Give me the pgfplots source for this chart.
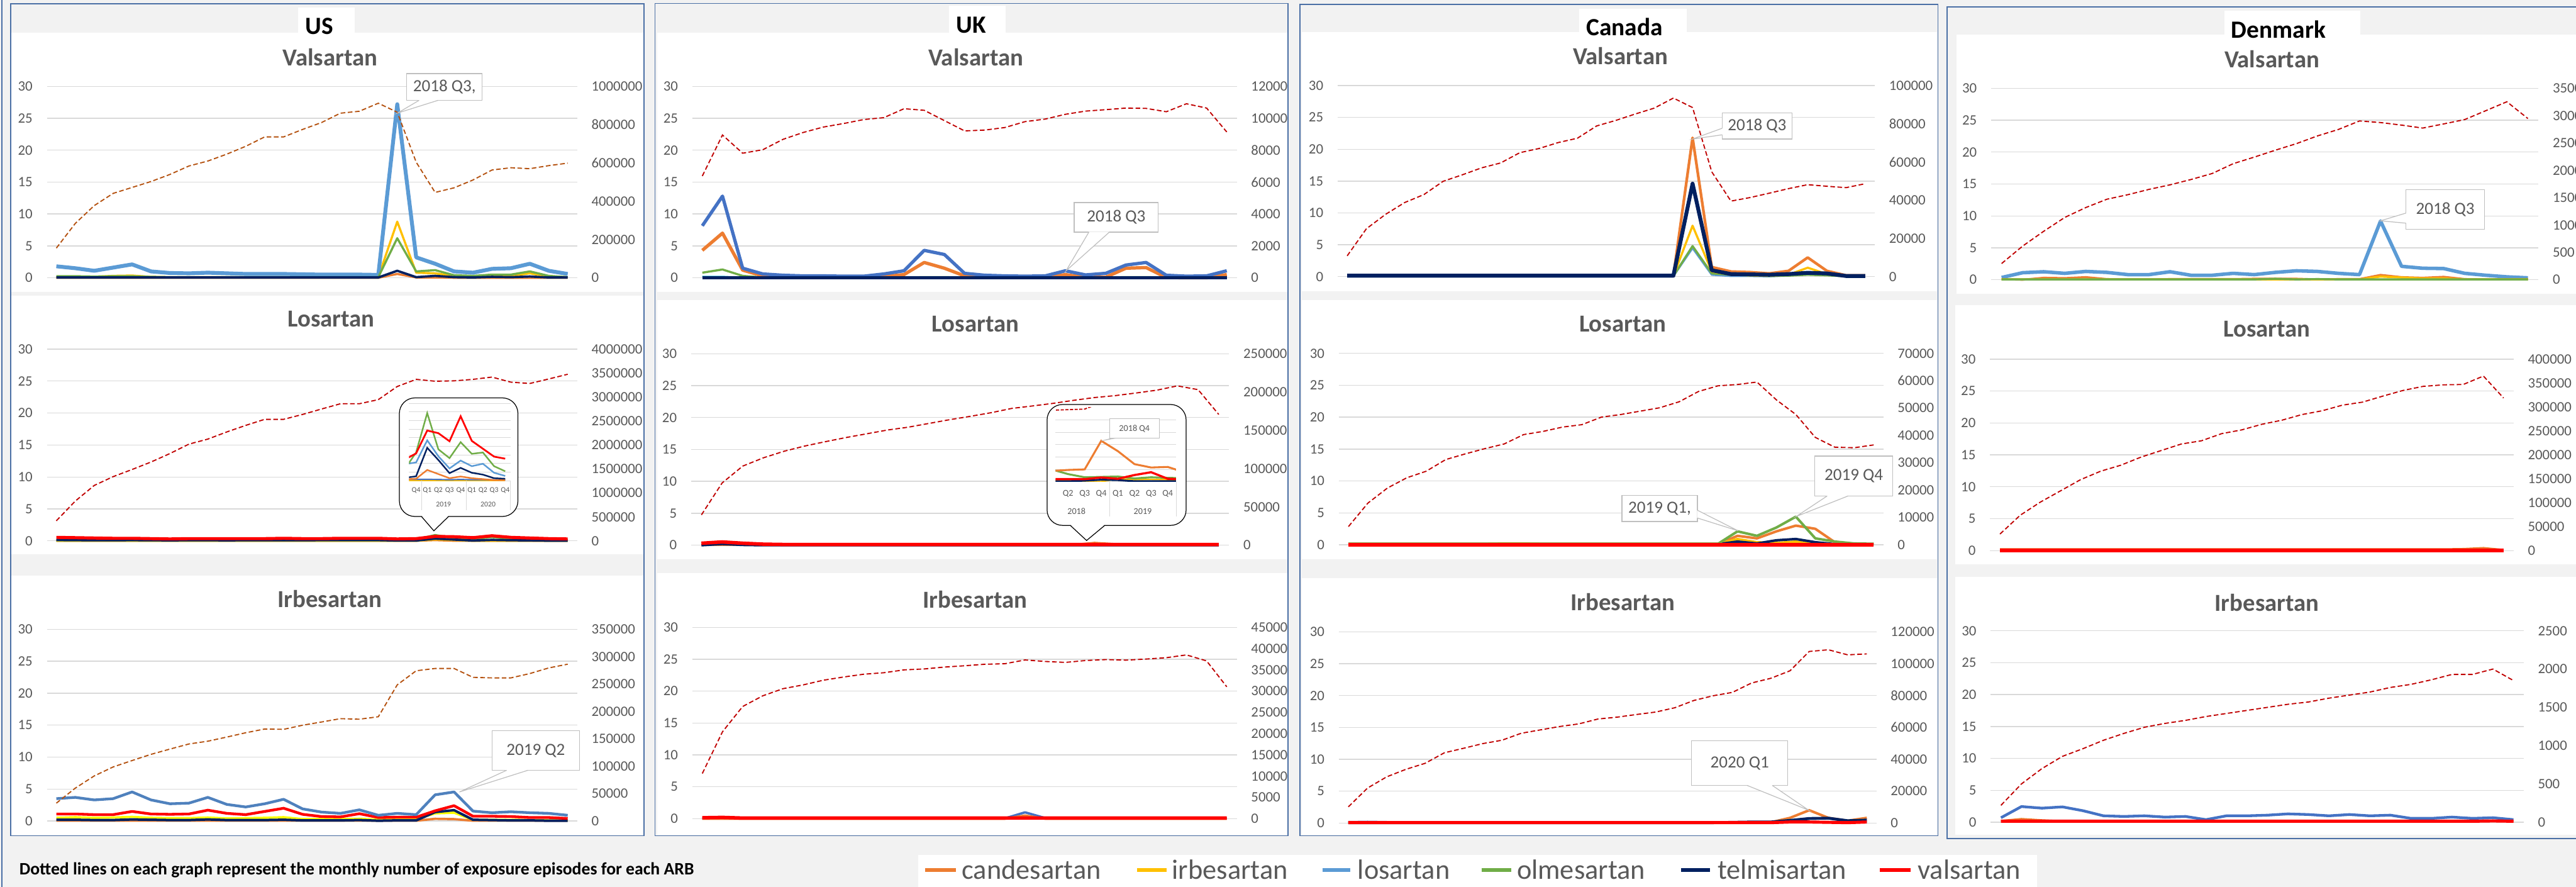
\documentclass[border=0pt]{standalone}
\usepackage{fontspec}
\setmainfont{Carlito}
\usepackage{pgfplots}
\usepackage{pgfplotstable}
\pgfplotsset{compat=1.18}
\definecolor{cand}{HTML}{ED7D31}
\definecolor{irb}{HTML}{FFC000}
\definecolor{yel}{HTML}{FFFF00}
\definecolor{los}{HTML}{5B9BD5}
\definecolor{losd}{HTML}{4472C4}
\definecolor{losm}{HTML}{4F81BD}
\definecolor{olm}{HTML}{70AD47}
\definecolor{tel}{HTML}{002060}
\definecolor{val}{HTML}{FF0000}
\definecolor{dashr}{HTML}{C00000}
\definecolor{dashb}{HTML}{B4500E}
\definecolor{gridc}{HTML}{D9D9D9}
\definecolor{txt}{HTML}{595959}
\definecolor{bg}{HTML}{F2F2F2}
\definecolor{boxc}{HTML}{4A6FA5}
\definecolor{callb}{HTML}{BFBFBF}
\newcommand\tickf{\fontsize{3.7}{4.4}\selectfont}
\newcommand\titf{\fontsize{6.3}{7.5}\selectfont\bfseries}
\newcommand\hdf{\fontsize{6.4}{7.5}\selectfont\bfseries}
\newcommand\callf{\fontsize{4.4}{5.2}\selectfont}
\newcommand\insf{\fontsize{1.9}{2.3}\selectfont}
\newcommand\insfb{\fontsize{2.3}{2.8}\selectfont}
\newcommand\legf{\fontsize{7.2}{8.6}\selectfont}
\newcommand\notef{\fontsize{4.5}{5.4}\selectfont\bfseries}
\pgfplotsset{
 base/.style={scale only axis, anchor=south west, xmin=-0.5, ymin=0, clip=false,
   axis line style={draw=none}, tick style={draw=none}, major tick length=0pt,
   xtick=\empty, ticklabel style={font=\tickf, text=txt, inner sep=0pt},
   /pgf/number format/assume math mode=true, ticklabel shift=3.5pt},
 lax/.style={base, ymax=30, ytick={0,5,10,15,20,25,30}, ymajorgrids, grid style={draw=gridc, line width=0.22pt}},
 rax/.style={base, axis y line*=right, axis x line=none, scaled y ticks=false,
   yticklabel style={/pgf/number format/fixed, /pgf/number format/1000 sep={}}},
 dsh/.style={line width=0.3pt, dash pattern=on 1.2pt off 0.65pt},
 ins/.style={scale only axis, anchor=south west, ymin=0, axis line style={draw=none}, tick style={draw=none},
   major tick length=0pt, yticklabels={}, ymajorgrids, grid style={draw=gridc, line width=0.15pt},
   xticklabel style={text=txt, inner sep=0pt, anchor=center}},
}
\begin{document}
% ---------------- data ----------------
\pgfplotstableread{
i cand irb los olm tel dash
0 0 0.1 1.8 0.25 0.05 155000
1 0 0.1 1.5 0.25 0.05 284000
2 0 0.15 1.1 0.2 0.05 377000
3 0 0.3 1.6 0.25 0.05 441000
4 0 0.35 2.1 0.25 0.05 472000
5 0 0.15 1.0 0.15 0.05 503000
6 0 0.1 0.75 0.1 0.05 540000
7 0 0.1 0.7 0.1 0.05 584000
8 0 0.1 0.8 0.1 0.05 610000
9 0 0.1 0.7 0.1 0.05 646000
10 0 0.1 0.6 0.1 0.05 687000
11 0 0.1 0.6 0.1 0.05 736000
12 0 0.1 0.6 0.1 0.05 736000
13 0 0.1 0.55 0.1 0.05 775000
14 0 0.1 0.5 0.1 0.05 811000
15 0 0.1 0.5 0.1 0.05 860000
16 0 0.1 0.5 0.1 0.05 870000
17 0 0.1 0.45 0.1 0.05 912000
18 0.6 8.8 27.2 6.2 1.1 865000
19 0.05 0.8 3.2 1.0 0.1 604000
20 0.05 0.7 2.2 1.2 0.3 446000
21 0 0.3 1.0 0.4 0.1 470000
22 0 0.2 0.8 0.3 0.05 511000
23 0 0.3 1.4 0.5 0.15 563000
24 0 0.3 1.5 0.5 0.1 575000
25 0 0.7 2.2 1.0 0.2 570000
26 0 0.2 1.1 0.3 0.05 586000
27 0 0.1 0.6 0.1 0.05 599000
}\tUSV
\pgfplotstableread{
i cand irb los olm tel dash
0 4.3 0.2 8.15 0.8 0 6380
1 7.0 0.2 12.8 1.3 0 8950
2 1.2 0.05 1.5 0.3 0 7810
3 0.3 0.05 0.6 0.05 0 8030
4 0.1 0.05 0.4 0.05 0 8680
5 0.1 0.05 0.3 0.05 0 9110
6 0.1 0.05 0.3 0.05 0 9450
7 0.1 0.05 0.25 0.05 0 9670
8 0.1 0.05 0.25 0.05 0 9920
9 0.2 0.05 0.6 0.05 0 10040
10 0.5 0.05 1.1 0.05 0 10600
11 2.4 0.1 4.3 0.1 0 10500
12 1.5 0.1 3.65 0.1 0 9855
13 0.3 0.05 0.7 0.05 0 9210
14 0.05 0.05 0.4 0.05 0 9260
15 0.05 0.05 0.3 0.05 0 9420
16 0.05 0.05 0.25 0.05 0 9790
17 0.05 0.05 0.3 0.05 0 9950
18 0.5 0.05 1.1 0.05 0 10250
19 0.05 0.05 0.45 0.05 0 10450
20 0.1 0.05 0.7 0.05 0 10540
21 1.5 0.1 2.0 0.1 0 10640
22 1.6 0.1 2.4 0.1 0 10620
23 0.05 0.05 0.4 0.05 0 10410
24 0 0.05 0.25 0.05 0 10910
25 0 0.05 0.3 0.05 0 10640
26 0.5 0.05 1.1 0.05 0 9140
}\tUKV
\pgfplotstableread{
i cand irb los olm tel dash
0 0.1 0.1 0.1 0.1 0.15 10870
1 0.1 0.1 0.1 0.1 0.15 25050
2 0.1 0.1 0.1 0.1 0.15 32600
3 0.1 0.1 0.1 0.1 0.15 38800
4 0.1 0.1 0.1 0.1 0.15 42960
5 0.1 0.1 0.1 0.1 0.15 49900
6 0.1 0.1 0.1 0.1 0.15 53300
7 0.1 0.1 0.1 0.1 0.15 56930
8 0.1 0.1 0.1 0.1 0.15 59520
9 0.1 0.1 0.1 0.1 0.15 64900
10 0.1 0.1 0.1 0.1 0.15 67080
11 0.1 0.1 0.1 0.1 0.15 70190
12 0.1 0.1 0.1 0.1 0.15 72460
13 0.1 0.1 0.1 0.1 0.15 78880
14 0.1 0.1 0.1 0.1 0.15 81780
15 0.1 0.1 0.1 0.1 0.15 85090
16 0.1 0.1 0.1 0.1 0.15 88200
17 0.1 0.1 0.1 0.1 0.15 93480
18 21.8 8.0 4.5 4.8 14.6 88510
19 1.5 0.8 0.3 0.5 1.0 54870
20 0.8 0.3 0.1 0.3 0.4 39540
21 0.7 0.2 0.1 0.2 0.35 41400
22 0.5 0.15 0.05 0.1 0.3 43690
23 0.9 0.3 0.2 0.15 0.4 46070
24 3.0 1.4 0.6 0.3 0.6 48140
25 0.9 0.4 0.4 0.2 0.5 47310
26 0.2 0.1 0.1 0.05 0.1 46580
27 0.2 0.1 0.1 0.05 0.1 48650
}\tCAV
\pgfplotstableread{
i cand irb los olm dash
0 0.1 0.05 0.35 0.05 296
1 0.0 0.05 1.1 0.05 615
2 0.3 0.05 1.25 0.05 886
3 0.25 0.05 1.0 0.05 1139
4 0.4 0.05 1.3 0.05 1320
5 0.1 0.05 1.15 0.05 1472
6 0.05 0.05 0.8 0.05 1555
7 0.05 0.05 0.8 0.05 1652
8 0.1 0.05 1.25 0.05 1735
9 0.1 0.05 0.7 0.05 1833
10 0.1 0.05 0.7 0.05 1942
11 0.1 0.05 1.0 0.05 2122
12 0.15 0.05 0.8 0.05 2242
13 0.15 0.05 1.15 0.15 2368
14 0.15 0.05 1.4 0.05 2488
15 0.05 0.05 1.3 0.1 2629
16 0.1 0.05 1.0 0.05 2748
17 0.1 0.05 0.8 0.05 2903
18 0.75 0.5 9.2 0.05 2874
19 0.4 0.35 2.1 0.05 2827
20 0.3 0.2 1.8 0.05 2773
21 0.45 0.2 1.75 0.05 2849
22 0.1 0.05 1.0 0.05 2929
23 0.05 0.05 0.7 0.05 3091
24 0.05 0.05 0.45 0.05 3254
25 0.1 0.05 0.3 0.05 2947
}\tDKV
\pgfplotstableread{
i cand irb olm tel val dash
0 0 0 0.1 0.15 0.55 419000
1 0 0 0.1 0.12 0.5 830000
2 0 0 0.1 0.1 0.45 1156000
3 0 0 0.1 0.1 0.4 1340000
4 0 0 0.1 0.12 0.4 1489000
5 0 0 0.1 0.1 0.35 1645000
6 0 0 0.1 0.08 0.3 1822000
7 0 0 0.1 0.1 0.35 2018000
8 0 0 0.1 0.1 0.35 2123000
9 0 0 0.1 0.08 0.35 2272000
10 0 0 0.1 0.1 0.35 2409000
11 0 0 0.1 0.1 0.35 2535000
12 0 0 0.1 0.1 0.4 2535000
13 0 0 0.1 0.1 0.35 2637000
14 0 0 0.1 0.12 0.35 2750000
15 0 0 0.1 0.12 0.4 2860000
16 0 0 0.1 0.12 0.4 2860000
17 0 0 0.1 0.12 0.4 2946000
18 0 0 0.1 0.05 0.3 3220000
19 0 0 0.2 0.05 0.35 3369000
20 0.1 0.2 0.9 0.35 0.7 3330000
21 0 0.1 0.4 0.2 0.65 3338000
22 0 0 0.3 0.05 0.5 3369000
23 0 0 0.6 0.15 0.8 3416000
24 0 0 0.3 0.1 0.55 3310000
25 0 0 0.15 0.07 0.45 3283000
26 0 0 0.1 0.03 0.35 3377000
27 0 0 0.1 0.03 0.3 3475000
}\tUSL
\pgfplotstableread{
i cand tel val dash
0 0.05 0 0.3 39500
1 0.05 0.2 0.5 81200
2 0.05 0.05 0.3 103300
3 0.05 0 0.15 114100
4 0.05 0 0.1 122700
5 0.05 0 0.1 129500
6 0.05 0 0.1 135200
7 0.05 0 0.1 140600
8 0.05 0 0.1 145500
9 0.05 0 0.1 150400
10 0.05 0 0.1 154100
11 0.05 0 0.1 159000
12 0.05 0 0.1 163900
13 0.05 0 0.1 168300
14 0.05 0 0.1 173000
15 0.05 0 0.1 178600
16 0.05 0 0.1 181800
17 0.05 0 0.1 185200
18 0.05 0 0.1 189200
19 0.35 0 0.1 192800
20 0.15 0 0.1 195300
21 0.05 0 0.1 198700
22 0.05 0 0.1 202400
23 0.05 0 0.1 208000
24 0.05 0 0.1 203100
25 0.05 0 0.1 170700
}\tUKL
\pgfplotstableread{
i cand irb olm tel val dash
0 0.1 0.15 0.15 0.1 0 6660
1 0.1 0.15 0.15 0.1 0 15240
2 0.1 0.15 0.15 0.1 0 20730
3 0.1 0.15 0.15 0.1 0 24500
4 0.1 0.15 0.15 0.1 0 26900
5 0.1 0.15 0.15 0.1 0 31160
6 0.1 0.15 0.15 0.1 0 33220
7 0.1 0.15 0.15 0.1 0 35140
8 0.1 0.2 0.15 0.1 0 36850
9 0.1 0.2 0.15 0.1 0 40280
10 0.1 0.15 0.15 0.1 0 41450
11 0.1 0.15 0.15 0.1 0 43030
12 0.1 0.15 0.15 0.1 0 43920
13 0.1 0.15 0.15 0.1 0 46670
14 0.1 0.15 0.15 0.1 0 47630
15 0.1 0.15 0.15 0.1 0 48860
16 0.1 0.15 0.15 0.1 0 50100
17 0.1 0.15 0.15 0.1 0 52290
18 0.1 0.15 0.15 0.1 0 56070
19 0.1 0.15 0.15 0.1 0 58130
20 1.4 0.9 2.1 0.5 0 58610
21 1.0 0.4 1.4 0.2 0 59500
22 2.1 0.3 2.7 0.7 0 52980
23 3.0 0.5 4.4 0.9 0 47630
24 2.5 0.1 1.0 0.4 0 39260
25 0.4 0.05 0.5 0.1 0 35690
26 0.1 0.05 0.2 0.05 0 35480
27 0.1 0.05 0.15 0.05 0 36510
}\tCAL
\pgfplotstableread{
i cand val dash
0 0.2 0 34500
1 0.2 0 73700
2 0.2 0 101200
3 0.2 0 124700
4 0.2 0 148200
5 0.2 0 165900
6 0.2 0 178400
7 0.2 0 195300
8 0.2 0 209000
9 0.2 0 222700
10 0.2 0 229400
11 0.2 0 244300
12 0.2 0 252200
13 0.2 0 263900
14 0.2 0 272500
15 0.2 0 284300
16 0.2 0 292200
17 0.2 0 303900
18 0.2 0 310200
19 0.2 0 322700
20 0.2 0 334500
21 0.2 0 343100
22 0.2 0 346300
23 0.25 0 347100
24 0.4 0 364700
25 0.1 0 318800
}\tDKL
\pgfplotstableread{
i cand los yel tel val dash
0 0.05 3.5 0.5 0.2 1.1 32600
1 0.05 3.7 0.6 0.2 1.1 60000
2 0.05 3.3 0.5 0.15 1.0 82300
3 0.05 3.5 0.55 0.15 1.0 98700
4 0.05 4.55 0.65 0.25 1.5 110400
5 0.05 3.3 0.5 0.2 1.1 121700
6 0.05 2.7 0.45 0.15 1.05 131300
7 0.05 2.8 0.45 0.15 1.1 140600
8 0.05 3.7 0.55 0.25 1.7 145700
9 0.05 2.6 0.4 0.15 1.2 153200
10 0.05 2.2 0.45 0.15 1.0 161100
11 0.05 2.7 0.5 0.15 1.5 167900
12 0.05 3.4 0.6 0.2 2.0 167300
13 0.05 1.9 0.3 0.1 1.05 174800
14 0.05 1.4 0.3 0.1 0.7 180700
15 0.05 1.2 0.3 0.1 0.65 186800
16 0.05 1.75 0.35 0.15 1.15 185800
17 0.05 0.9 0.2 0.05 0.55 190300
18 0.05 1.2 0.3 0.1 0.6 248500
19 0.05 1.0 0.3 0.1 0.6 274200
20 0.35 4.1 1.2 1.4 1.6 278400
21 0.3 4.55 1.3 1.7 2.4 278400
22 0.05 1.55 0.2 0.2 0.75 262200
23 0.05 1.3 0.2 0.15 0.75 261200
24 0.05 1.45 0.2 0.1 0.7 261200
25 0.05 1.3 0.15 0.1 0.55 269100
26 0.05 1.2 0.1 0.05 0.55 279400
27 0.05 0.9 0.1 0.05 0.4 286200
}\tUSI
\pgfplotstableread{
i cand los val dash
0 0 0.05 0.15 10630
1 0 0.05 0.2 20430
2 0 0.05 0.1 26380
3 0 0.05 0.1 28900
4 0 0.05 0.1 30570
5 0 0.05 0.1 31460
6 0 0.05 0.1 32560
7 0 0.05 0.1 33310
8 0 0.05 0.1 33970
9 0 0.05 0.1 34320
10 0 0.05 0.1 34990
11 0 0.05 0.1 35210
12 0 0.05 0.1 35650
13 0 0.05 0.1 35960
14 0 0.05 0.1 36310
15 0 0.05 0.1 36440
16 0.5 1.0 0.1 37320
17 0 0.1 0.1 36970
18 0 0.05 0.1 36750
19 0 0.1 0.1 37190
20 0 0.05 0.1 37410
21 0 0.05 0.1 37280
22 0 0.05 0.1 37540
23 0 0.05 0.1 37850
24 0 0.05 0.1 38510
25 0 0.05 0.1 37100
26 0 0.05 0.1 31010
}\tUKI
\pgfplotstableread{
i cand los tel val dash
0 0.05 0.15 0.05 0.05 10140
1 0.05 0.2 0.05 0.05 21930
2 0.05 0.15 0.05 0.05 29000
3 0.05 0.1 0.05 0.05 33710
4 0.05 0.1 0.05 0.05 37490
5 0.05 0.1 0.05 0.05 44090
6 0.05 0.1 0.05 0.05 46920
7 0.05 0.1 0.05 0.05 49860
8 0.05 0.1 0.05 0.05 51980
9 0.05 0.1 0.05 0.05 56350
10 0.05 0.1 0.05 0.05 58470
11 0.05 0.1 0.05 0.05 60590
12 0.05 0.1 0.05 0.05 62240
13 0.05 0.1 0.05 0.05 65310
14 0.05 0.1 0.05 0.05 66480
15 0.05 0.1 0.05 0.05 68130
16 0.05 0.1 0.05 0.05 69670
17 0.05 0.1 0.05 0.05 72380
18 0.05 0.1 0.05 0.05 76980
19 0.05 0.1 0.05 0.05 79920
20 0.05 0.1 0.1 0.05 82040
21 0.05 0.1 0.15 0.05 87940
22 0.1 0.1 0.15 0.05 90890
23 0.8 0.1 0.4 0.15 95600
24 2.0 0.1 0.7 0.15 107740
25 0.8 0.1 0.75 0.1 108800
26 0.35 0.1 0.35 0.05 105620
27 0.8 0.1 0.45 0.15 106210
}\tCAI
\pgfplotstableread{
i cand los val dash
0 0.2 0.7 0.15 220
1 0.5 2.45 0.15 500
2 0.3 2.2 0.15 700
3 0.15 2.4 0.15 860
4 0.15 1.8 0.15 960
5 0.15 1.0 0.15 1070
6 0.15 0.9 0.15 1160
7 0.15 1.0 0.15 1240
8 0.15 0.8 0.15 1290
9 0.15 0.9 0.15 1330
10 0.15 0.4 0.15 1380
11 0.15 1.0 0.15 1420
12 0.15 1.0 0.15 1460
13 0.15 1.1 0.15 1500
14 0.15 1.3 0.15 1540
15 0.15 1.2 0.15 1570
16 0.15 1.0 0.15 1620
17 0.15 1.2 0.15 1660
18 0.15 1.0 0.15 1700
19 0.15 1.1 0.15 1760
20 0.15 0.6 0.15 1800
21 0.15 0.6 0.15 1860
22 0.15 0.8 0.15 1930
23 0.15 0.6 0.15 1930
24 0.15 0.7 0.2 2000
25 0.15 0.4 0.15 1850
}\tDKI
\begin{tikzpicture}
\useasboundingbox (0,0) rectangle (665pt,228.9pt);
\clip (0,0) rectangle (665pt,228.9pt);
\fill[bg] (0,0) rectangle (665pt,228.9pt);
\draw[boxc, line width=0.25pt] (0.45pt,0) -- (0.45pt,228.9pt);
% column boxes
\draw[boxc, line width=0.3pt] (2.7pt,13.2pt) rectangle (166.3pt,227.9pt);
\draw[boxc, line width=0.3pt] (169.1pt,13.2pt) rectangle (332.5pt,228.0pt);
\draw[boxc, line width=0.3pt] (335.6pt,13.2pt) rectangle (500.3pt,227.8pt);
\draw[boxc, line width=0.3pt] (502.6pt,12.5pt) rectangle (670pt,227.1pt);
% panels
\fill[white] (2.9pt,153.5pt) rectangle (166.1pt,220.4pt);
\fill[white] (2.9pt,85.9pt) rectangle (166.1pt,152.6pt);
\fill[white] (2.9pt,13.4pt) rectangle (166.1pt,80.4pt);
\fill[white] (169.6pt,153.5pt) rectangle (332.3pt,220.4pt);
\fill[white] (169.6pt,84.5pt) rectangle (332.3pt,151.5pt);
\fill[white] (169.6pt,13.4pt) rectangle (332.3pt,81.0pt);
\fill[white] (336.1pt,153.7pt) rectangle (500.1pt,220.6pt);
\fill[white] (336.1pt,84.6pt) rectangle (500.1pt,151.5pt);
\fill[white] (336.1pt,13.4pt) rectangle (500.1pt,79.7pt);
\fill[white] (505.0pt,153.0pt) rectangle (670pt,220.0pt);
\fill[white] (504.7pt,83.2pt) rectangle (670pt,150.1pt);
\fill[white] (504.7pt,13.4pt) rectangle (670pt,80.0pt);
% header tabs
\fill[white] (77.0pt,220.0pt) rectangle (91.6pt,226.9pt);
\node[font=\hdf] at (82.5pt,222.2pt) {US};
\fill[white] (245.0pt,220.0pt) rectangle (259.6pt,227.5pt);
\node[font=\hdf] at (250.7pt,222.5pt) {UK};
\fill[white] (407.6pt,220.2pt) rectangle (435.4pt,226.7pt);
\node[font=\hdf] at (419.4pt,221.9pt) {Canada};
\fill[white] (574.2pt,219.6pt) rectangle (609.3pt,226.1pt);
\node[font=\hdf] at (588.2pt,221.3pt) {Denmark};
% titles
\foreach \x/\y/\t in {85.2/214.1/Valsartan, 85.5/146.5/Losartan, 85.1/74.3/Irbesartan,
  251.9/214.1/Valsartan, 251.8/145.3/Losartan, 251.7/74.2/Irbesartan,
  418.3/214.4/Valsartan, 418.9/145.3/Losartan, 418.9/73.5/Irbesartan,
  586.5/213.7/Valsartan, 585.2/143.9/Losartan, 585.2/73.4/Irbesartan}
  \node[font=\titf, text=txt] at (\x pt,\y pt) {\t};

% ================= US =================
\begin{axis}[lax, at={(12.1pt,157.2pt)}, width=136.9pt, height=49.4pt, xmax=27.5]
\addplot[cand, line width=0.55pt, line join=round] table[x=i,y=cand]{\tUSV};
\addplot[irb, line width=0.55pt, line join=round] table[x=i,y=irb]{\tUSV};
\addplot[los, line width=1.0pt, line join=round] table[x=i,y=los]{\tUSV};
\addplot[olm, line width=0.55pt, line join=round] table[x=i,y=olm]{\tUSV};
\addplot[tel, line width=0.6pt, line join=round] table[x=i,y=tel]{\tUSV};
\end{axis}
\begin{axis}[rax, at={(12.1pt,157.2pt)}, width=136.9pt, height=49.4pt, xmax=27.5, ymax=1000000,
  ytick={0,200000,400000,600000,800000,1000000}]
\addplot[dashb, dsh] table[x=i,y=dash]{\tUSV};
\end{axis}

\begin{axis}[lax, at={(12.1pt,89.3pt)}, width=136.9pt, height=49.5pt, xmax=27.5]
\addplot[cand, line width=0.5pt] table[x=i,y=cand]{\tUSL};
\addplot[irb, line width=0.5pt] table[x=i,y=irb]{\tUSL};
\addplot[olm, line width=0.6pt] table[x=i,y=olm]{\tUSL};
\addplot[tel, line width=0.6pt] table[x=i,y=tel]{\tUSL};
\addplot[val, line width=0.8pt, line join=round] table[x=i,y=val]{\tUSL};
\end{axis}
\begin{axis}[rax, at={(12.1pt,89.3pt)}, width=136.9pt, height=49.5pt, xmax=27.5, ymax=4000000,
  ytick={0,500000,1000000,1500000,2000000,2500000,3000000,3500000,4000000}]
\addplot[dashr, dsh] table[x=i,y=dash]{\tUSL};
\end{axis}

\begin{axis}[lax, at={(12.1pt,17.0pt)}, width=136.9pt, height=49.5pt, xmax=27.5]
\addplot[cand, line width=0.6pt, line join=round] table[x=i,y=cand]{\tUSI};
\addplot[yel, line width=0.6pt, line join=round] table[x=i,y=yel]{\tUSI};
\addplot[tel, line width=0.65pt, line join=round] table[x=i,y=tel]{\tUSI};
\addplot[val, line width=0.7pt, line join=round] table[x=i,y=val]{\tUSI};
\addplot[losm, line width=0.7pt, line join=round] table[x=i,y=los]{\tUSI};
\end{axis}
\begin{axis}[rax, at={(12.1pt,17.0pt)}, width=136.9pt, height=49.5pt, xmax=27.5, ymax=350000,
  ytick={0,50000,100000,150000,200000,250000,300000,350000}]
\addplot[dashb, dsh] table[x=i,y=dash]{\tUSI};
\end{axis}

% ================= UK =================
\begin{axis}[lax, at={(178.7pt,157.2pt)}, width=140.6pt, height=49.4pt, xmax=26.5]
\addplot[olm, line width=0.55pt, line join=round] table[x=i,y=olm]{\tUKV};
\addplot[cand, line width=0.85pt, line join=round] table[x=i,y=cand]{\tUKV};
\addplot[losd, line width=0.85pt, line join=round] table[x=i,y=los]{\tUKV};
\addplot[los!60!cyan, line width=0.4pt] table[x=i,y=irb]{\tUKV};
\addplot[tel, line width=0.8pt] table[x=i,y=tel]{\tUKV};
\end{axis}
\begin{axis}[rax, at={(178.7pt,157.2pt)}, width=140.6pt, height=49.4pt, xmax=26.5, ymax=12000,
  ytick={0,2000,4000,6000,8000,10000,12000}]
\addplot[dashr, dsh] table[x=i,y=dash]{\tUKV};
\end{axis}

\begin{axis}[lax, at={(178.4pt,88.2pt)}, width=138.9pt, height=49.4pt, xmax=25.5]
\addplot[cand, line width=0.6pt] table[x=i,y=cand]{\tUKL};
\addplot[tel, line width=0.7pt] table[x=i,y=tel]{\tUKL};
\addplot[val, line width=0.9pt, line join=round] table[x=i,y=val]{\tUKL};
\end{axis}
\begin{axis}[rax, at={(178.4pt,88.2pt)}, width=138.9pt, height=49.4pt, xmax=25.5, ymax=250000,
  ytick={0,50000,100000,150000,200000,250000}]
\addplot[dashr, dsh] table[x=i,y=dash]{\tUKL};
\end{axis}

\begin{axis}[lax, at={(178.7pt,17.6pt)}, width=140.6pt, height=49.4pt, xmax=26.5]
\addplot[losd, line width=0.6pt, line join=round] table[x=i,y=los]{\tUKI};
\addplot[cand, line width=0.6pt, line join=round] table[x=i,y=cand]{\tUKI};
\addplot[val, line width=0.9pt, line join=round] table[x=i,y=val]{\tUKI};
\end{axis}
\begin{axis}[rax, at={(178.7pt,17.6pt)}, width=140.6pt, height=49.4pt, xmax=26.5, ymax=45000,
  ytick={0,5000,10000,15000,20000,25000,30000,35000,40000,45000}]
\addplot[dashr, dsh] table[x=i,y=dash]{\tUKI};
\end{axis}

% ================= Canada =================
\begin{axis}[lax, at={(345.3pt,157.5pt)}, width=138.7pt, height=49.3pt, xmax=27.5]
\addplot[los, line width=0.55pt, line join=round] table[x=i,y=los]{\tCAV};
\addplot[olm, line width=0.55pt, line join=round] table[x=i,y=olm]{\tCAV};
\addplot[irb, line width=0.55pt, line join=round] table[x=i,y=irb]{\tCAV};
\addplot[cand, line width=0.7pt, line join=round] table[x=i,y=cand]{\tCAV};
\addplot[tel, line width=1.0pt, line join=round] table[x=i,y=tel]{\tCAV};
\end{axis}
\begin{axis}[rax, at={(345.3pt,157.5pt)}, width=138.7pt, height=49.3pt, xmax=27.5, ymax=100000,
  ytick={0,20000,40000,60000,80000,100000}]
\addplot[dashr, dsh] table[x=i,y=dash]{\tCAV};
\end{axis}

\begin{axis}[lax, at={(345.6pt,88.3pt)}, width=140.6pt, height=49.4pt, xmax=27.5]
\addplot[cand, line width=0.65pt, line join=round] table[x=i,y=cand]{\tCAL};
\addplot[irb, line width=0.6pt, line join=round] table[x=i,y=irb]{\tCAL};
\addplot[tel, line width=0.65pt, line join=round] table[x=i,y=tel]{\tCAL};
\addplot[olm, line width=0.65pt, line join=round] table[x=i,y=olm]{\tCAL};
\addplot[val, line width=0.9pt] table[x=i,y=val]{\tCAL};
\end{axis}
\begin{axis}[rax, at={(345.6pt,88.3pt)}, width=140.6pt, height=49.4pt, xmax=27.5, ymax=70000,
  ytick={0,10000,20000,30000,40000,50000,60000,70000}]
\addplot[dashr, dsh] table[x=i,y=dash]{\tCAL};
\end{axis}

\begin{axis}[lax, at={(345.6pt,16.5pt)}, width=138.8pt, height=49.3pt, xmax=27.5]
\addplot[los, line width=0.55pt] table[x=i,y=los]{\tCAI};
\addplot[cand, line width=0.65pt, line join=round] table[x=i,y=cand]{\tCAI};
\addplot[tel, line width=0.75pt, line join=round] table[x=i,y=tel]{\tCAI};
\addplot[val, line width=0.8pt, line join=round] table[x=i,y=val]{\tCAI};
\end{axis}
\begin{axis}[rax, at={(345.6pt,16.5pt)}, width=138.8pt, height=49.3pt, xmax=27.5, ymax=120000,
  ytick={0,20000,40000,60000,80000,100000,120000}]
\addplot[dashr, dsh] table[x=i,y=dash]{\tCAI};
\end{axis}

% ================= Denmark =================
\begin{axis}[lax, at={(514.0pt,156.7pt)}, width=141.3pt, height=49.4pt, xmax=25.5]
\addplot[los, line width=0.9pt, line join=round] table[x=i,y=los]{\tDKV};
\addplot[cand, line width=0.55pt, line join=round] table[x=i,y=cand]{\tDKV};
\addplot[irb, line width=0.55pt, line join=round] table[x=i,y=irb]{\tDKV};
\addplot[olm, line width=0.55pt, line join=round] table[x=i,y=olm]{\tDKV};
\end{axis}
\begin{axis}[rax, at={(514.0pt,156.7pt)}, width=141.3pt, height=49.4pt, xmax=25.5, ymax=3500,
  ytick={0,500,1000,1500,2000,2500,3000,3500}]
\addplot[dashr, dsh] table[x=i,y=dash]{\tDKV};
\end{axis}

\begin{axis}[lax, at={(513.7pt,86.8pt)}, width=135.2pt, height=49.4pt, xmax=25.5]
\addplot[cand, line width=0.55pt, line join=round] table[x=i,y=cand]{\tDKL};
\addplot[val, line width=1.0pt] table[x=i,y=val]{\tDKL};
\end{axis}
\begin{axis}[rax, at={(513.7pt,86.8pt)}, width=135.2pt, height=49.4pt, xmax=25.5, ymax=400000,
  ytick={0,50000,100000,150000,200000,250000,300000,350000,400000}]
\addplot[dashr, dsh] table[x=i,y=dash]{\tDKL};
\end{axis}

\begin{axis}[lax, at={(513.9pt,16.7pt)}, width=137.6pt, height=49.4pt, xmax=25.5]
\addplot[cand, line width=0.55pt, line join=round] table[x=i,y=cand]{\tDKI};
\addplot[losd, line width=0.7pt, line join=round] table[x=i,y=los]{\tDKI};
\addplot[val, line width=0.8pt, line join=round] table[x=i,y=val]{\tDKI};
\end{axis}
\begin{axis}[rax, at={(513.9pt,16.7pt)}, width=137.6pt, height=49.4pt, xmax=25.5, ymax=2500,
  ytick={0,500,1000,1500,2000,2500}]
\addplot[dashr, dsh] table[x=i,y=dash]{\tDKI};
\end{axis}

% ================= callouts =================
\begin{scope}[callb, line width=0.2pt]
\draw[fill=white] (105.0pt,203.0pt) rectangle (124.5pt,209.9pt);
\fill[white] (108.2pt,203.1pt) -- (102.6pt,199.7pt) -- (113.1pt,203.1pt) -- cycle;
\draw (108.2pt,203.0pt) -- (102.6pt,199.7pt) -- (113.1pt,203.0pt);
\draw[fill=white] (277.3pt,169.0pt) rectangle (299.0pt,176.6pt);
\fill[white] (281.1pt,169.1pt) -- (275.2pt,159.0pt) -- (286.4pt,169.1pt) -- cycle;
\draw (281.1pt,169.0pt) -- (275.2pt,159.0pt) -- (286.4pt,169.0pt);
\draw[fill=white] (444.6pt,193.0pt) rectangle (462.6pt,199.8pt);
\fill[white] (444.7pt,195.8pt) -- (436.9pt,193.0pt) -- (444.7pt,194.1pt) -- cycle;
\draw (444.6pt,195.8pt) -- (436.9pt,193.0pt) -- (444.6pt,194.1pt);
\draw[fill=white] (621.1pt,169.7pt) rectangle (641.4pt,179.9pt);
\fill[white] (621.2pt,173.9pt) -- (614.5pt,171.9pt) -- (621.2pt,171.3pt) -- cycle;
\draw (621.1pt,173.9pt) -- (614.5pt,171.9pt) -- (621.1pt,171.3pt);
\draw[fill=white] (418.7pt,94.3pt) rectangle (438.2pt,101.1pt);
\fill[white] (438.1pt,97.2pt) -- (448.7pt,91.9pt) -- (438.1pt,95.2pt) -- cycle;
\draw (438.2pt,97.2pt) -- (448.7pt,91.9pt) -- (438.2pt,95.2pt);
\draw[fill=white] (468.5pt,100.9pt) rectangle (488.6pt,111.2pt);
\fill[white] (471.7pt,101.0pt) -- (463.7pt,95.6pt) -- (477.1pt,101.0pt) -- cycle;
\draw (471.7pt,100.9pt) -- (463.7pt,95.6pt) -- (477.1pt,100.9pt);
\draw[fill=white] (127.0pt,30.1pt) rectangle (149.6pt,40.3pt);
\fill[white] (130.8pt,30.2pt) -- (118.6pt,24.5pt) -- (136.3pt,30.2pt) -- cycle;
\draw (130.8pt,30.1pt) -- (118.6pt,24.5pt) -- (136.3pt,30.1pt);
\draw[fill=white] (436.7pt,26.2pt) rectangle (461.5pt,37.7pt);
\fill[white] (451.0pt,26.3pt) -- (466.9pt,19.8pt) -- (457.5pt,26.3pt) -- cycle;
\draw (451.0pt,26.2pt) -- (466.9pt,19.8pt) -- (457.5pt,26.2pt);
\end{scope}
\node[font=\callf, text=txt] at (114.75pt,206.45pt) {2018 Q3,};
\node[font=\callf, text=txt] at (288.15pt,172.8pt) {2018 Q3};
\node[font=\callf, text=txt] at (453.6pt,196.4pt) {2018 Q3};
\node[font=\callf, text=txt] at (631.25pt,174.8pt) {2018 Q3};
\node[font=\callf, text=txt] at (428.45pt,97.7pt) {2019 Q1,};
\node[font=\callf, text=txt] at (478.55pt,106.05pt) {2019 Q4};
\node[font=\callf, text=txt] at (138.3pt,35.2pt) {2019 Q2};
\node[font=\callf, text=txt] at (449.1pt,31.95pt) {2020 Q1};

% ================= inset US Losartan =================
\draw[black, line width=0.2pt, fill=white, rounded corners=4pt] (103.1pt,95.6pt) rectangle (133.7pt,126.2pt);
\fill[white] (108.8pt,95.8pt) -- (112.0pt,91.9pt) -- (115.8pt,95.8pt) -- cycle;
\draw[black, line width=0.2pt] (108.8pt,95.6pt) -- (112.0pt,91.9pt) -- (115.8pt,95.6pt);
\begin{axis}[ins, at={(105.6pt,104.85pt)}, width=26.2pt, height=19.95pt, xmin=0.37, xmax=9.48, ymax=412,
  ytick={0,45.8,91.6,137.3,183.1,228.9,274.7,320.4,366.2,412},
  xtick={1,2,3,4,5,6,7,8,9}, xticklabels={Q4,Q1,Q2,Q3,Q4,Q1,Q2,Q3,Q4},
  xticklabel style={font=\insf, yshift=-2.45pt}]
\addplot[irb, line width=0.35pt] coordinates {(0,1)(1,1)(2,1)(3,1)(4,1)(5,1)(6,1)(7,1)(8,1)(9,1)};
\addplot[losd, line width=0.35pt] coordinates {(0,7)(1,7)(2,7)(3,6)(4,5)(5,6)(6,5)(7,5)(8,4)(9,3)};
\addplot[cand, line width=0.4pt] coordinates {(0,7)(1,10)(2,57)(3,35)(4,13)(5,22)(6,13)(7,8)(8,3)(9,3)};
\addplot[tel, line width=0.4pt] coordinates {(0,15)(1,23)(2,175)(3,110)(4,40)(5,68)(6,42)(7,32)(8,13)(9,10)};
\addplot[los, line width=0.4pt] coordinates {(0,88)(1,97)(2,215)(3,130)(4,65)(5,107)(6,77)(7,90)(8,42)(9,25)};
\addplot[olm, line width=0.4pt] coordinates {(0,63)(1,150)(2,360)(3,167)(4,120)(5,205)(6,143)(7,150)(8,77)(9,50)};
\addplot[val, line width=0.45pt] coordinates {(0,113)(1,145)(2,267)(3,253)(4,210)(5,343)(6,212)(7,170)(8,128)(9,117)};
\end{axis}
\draw[gridc, line width=0.15pt] (108.8pt,104.85pt) -- (108.8pt,97.3pt) (120.3pt,104.85pt) -- (120.3pt,97.3pt) (131.8pt,104.85pt) -- (131.8pt,97.3pt);
\node[font=\insf, text=txt] at (114.5pt,98.8pt) {2019};
\node[font=\insf, text=txt] at (126.0pt,98.8pt) {2020};

% ================= inset UK Losartan =================
\draw[black, line width=0.2pt, fill=white, rounded corners=4pt] (270.3pt,93.3pt) rectangle (306.2pt,124.5pt);
\fill[white] (276.3pt,93.5pt) -- (280.5pt,89.4pt) -- (285.2pt,93.5pt) -- cycle;
\draw[black, line width=0.2pt] (276.3pt,93.3pt) -- (280.5pt,89.4pt) -- (285.2pt,93.3pt);
\begin{axis}[ins, at={(272.5pt,104.6pt)}, width=31.1pt, height=19.15pt, xmin=0.25, xmax=7.5, ymax=395,
  ytick={0,65,130,197,263,328},
  xtick={1,2,3,4,5,6,7}, xticklabels={Q2,Q3,Q4,Q1,Q2,Q3,Q4},
  xticklabel style={font=\insfb, yshift=-3.1pt}]
\addplot[dashr, line width=0.3pt, dash pattern=on 0.8pt off 0.4pt] coordinates {(0,380)(1,383)(2,386)(3,420)};
\addplot[irb, line width=0.4pt] coordinates {(0,7)(1,7)(2,0)(3,0)(4,15)(5,10)(6,12)(7,10)(8,10)};
\addplot[tel, line width=0.5pt] coordinates {(0,2)(1,2)(2,5)(3,10)(4,8)(5,2)(6,2)(7,2)(8,2)};
\addplot[olm, line width=0.5pt] coordinates {(0,65)(1,40)(2,23)(3,25)(4,27)(5,17)(6,23)(7,20)(8,18)};
\addplot[val, line width=0.55pt] coordinates {(0,13)(1,13)(2,13)(3,22)(4,15)(5,35)(6,50)(7,15)(8,12)};
\addplot[cand, line width=0.5pt] coordinates {(0,57)(1,62)(2,65)(3,217)(4,162)(5,93)(6,75)(7,78)(8,50)};
\end{axis}
\draw[gridc, line width=0.15pt] (286.4pt,104.6pt) -- (286.4pt,95.6pt) (303.6pt,104.6pt) -- (303.6pt,95.6pt);
\node[font=\insfb, text=txt] at (277.9pt,96.9pt) {2018};
\node[font=\insfb, text=txt] at (295.0pt,96.9pt) {2019};
\draw[callb, line width=0.12pt, fill=white] (286.4pt,115.8pt) rectangle (299.3pt,120.85pt);
\draw[callb, line width=0.12pt] (287.0pt,115.8pt) -- (284.3pt,115.1pt) -- (288.0pt,115.8pt);
\node[font=\insfb, text=txt] at (292.85pt,118.3pt) {2018 Q4};

% ================= footnote and legend =================
\node[font=\notef, anchor=base west, inner sep=0pt] at (4.8pt,3.2pt) {Dotted lines on each graph represent the monthly number of exposure episodes for each ARB};
\fill[white] (237.1pt,0pt) rectangle (525.9pt,8.3pt);
\draw[cand, line width=1pt] (238.8pt,4.3pt) -- (246.8pt,4.3pt);
\node[font=\legf, text=txt, anchor=base west, inner sep=0pt] at (248.1pt,2.0pt) {candesartan};
\draw[irb, line width=1pt] (293.5pt,4.3pt) -- (301.1pt,4.3pt);
\node[font=\legf, text=txt, anchor=base west, inner sep=0pt] at (302.4pt,2.0pt) {irbesartan};
\draw[los, line width=1pt] (341.4pt,4.3pt) -- (348.6pt,4.3pt);
\node[font=\legf, text=txt, anchor=base west, inner sep=0pt] at (350.3pt,2.0pt) {losartan};
\draw[olm, line width=1pt] (382.5pt,4.3pt) -- (390.2pt,4.3pt);
\node[font=\legf, text=txt, anchor=base west, inner sep=0pt] at (391.4pt,2.0pt) {olmesartan};
\draw[tel, line width=1pt] (433.9pt,4.3pt) -- (441.5pt,4.3pt);
\node[font=\legf, text=txt, anchor=base west, inner sep=0pt] at (443.2pt,2.0pt) {telmisartan};
\draw[val, line width=1pt] (485.2pt,4.3pt) -- (493.2pt,4.3pt);
\node[font=\legf, text=txt, anchor=base west, inner sep=0pt] at (494.9pt,2.0pt) {valsartan};
\end{tikzpicture}
\end{document}
